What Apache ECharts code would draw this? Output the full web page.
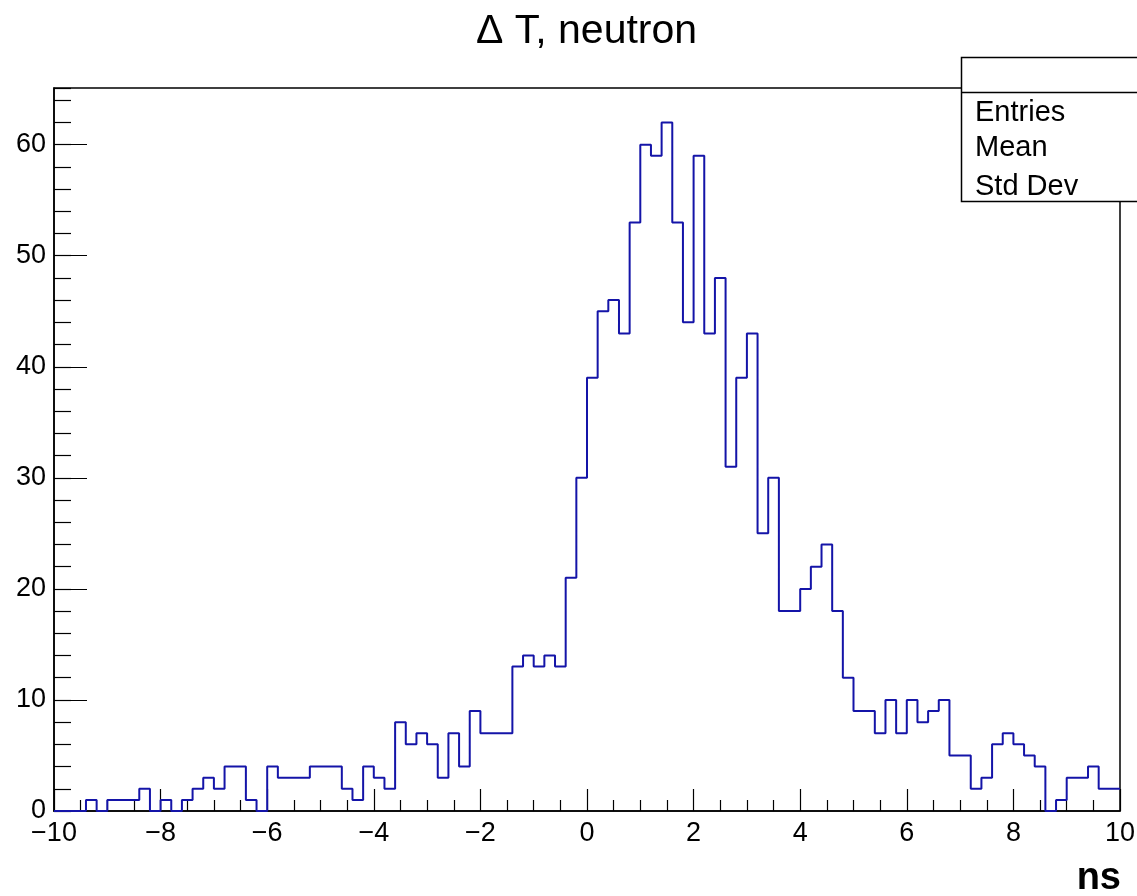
<!DOCTYPE html>
<html>
<head>
<meta charset="utf-8">
<script src="https://cdn.jsdelivr.net/npm/echarts@6/dist/echarts.min.js"></script>
<style>
html, body { margin: 0; padding: 0; background: #fff; }
#chart { width: 1137px; height: 896px; }
</style>
</head>
<body>
<div id="chart"></div>
<script>
// binning: 100 bins of 0.2 ns between -10 and 10
const xMin = -10
const xMax = 10
const binWidth = 0.2

// entries per bin, -10 .. 0 ns
const countsNeg = [
  0, 0, 0, 1, 0, 1, 1, 1, 2, 0,
  1, 0, 1, 2, 3, 2, 4, 4, 1, 0,
  4, 3, 3, 3, 4, 4, 4, 2, 1, 4,
  3, 2, 8, 6, 7, 6, 3, 7, 4, 9,
  7, 7, 7, 13, 14, 13, 14, 13, 21, 30
]
// entries per bin, 0 .. 10 ns
const countsPos = [
  39, 45, 46, 43, 53, 60, 59, 62, 53, 44,
  59, 43, 48, 31, 39, 43, 25, 30, 18, 18,
  20, 22, 24, 18, 12, 9, 9, 7, 10, 7,
  10, 8, 9, 10, 5, 5, 2, 3, 6, 7,
  6, 5, 4, 0, 1, 3, 3, 4, 2, 2
]

const titleText = "\u0394 T, neutron"
const xTitle = "ns"
const statsLabels = ["Entries", "Mean", "Std Dev"]

const counts = countsNeg.concat(countsPos)
const yMax = Math.max(...counts) * 1.05

// step line through the left edge of every bin, closed at xMax
const histData = counts.map((c, i) => [+(xMin + i * binWidth).toFixed(2), c])
histData.push([xMax, counts[counts.length - 1]])

const font = "'Liberation Sans', Arial, Helvetica, sans-serif"
const minus = v => (v < 0 ? "\u2212" + -v : "" + v)

const chart = echarts.init(document.getElementById("chart"))
chart.setOption({
  backgroundColor: "#ffffff",
  animation: false,
  title: {
    text: titleText,
    left: 471,
    top: 6,
    textStyle: { fontFamily: font, fontSize: 41, fontWeight: "normal", color: "#000" }
  },
  grid: {
    left: 54,
    right: 17,
    top: 88,
    bottom: 85,
    containLabel: false,
    outerBoundsMode: "none",
    show: true,
    borderColor: "#000",
    borderWidth: 1.5,
    backgroundColor: "transparent"
  },
  xAxis: {
    type: "value",
    min: xMin,
    max: xMax,
    interval: 2,
    axisLine: { show: true, onZero: false, lineStyle: { color: "#000", width: 1.5 } },
    axisTick: { show: true, inside: true, length: 22, lineStyle: { color: "#000", width: 1.2 } },
    minorTick: { show: true, splitNumber: 4, length: 11, lineStyle: { color: "#000", width: 1.2 } },
    splitLine: { show: false },
    minorSplitLine: { show: false },
    axisLabel: {
      fontFamily: font,
      fontSize: 27,
      color: "#000",
      margin: 9,
      showMinLabel: true,
      showMaxLabel: true,
      formatter: minus
    }
  },
  yAxis: [
    {
      // minor ticks every 2 entries
      type: "value",
      min: 0,
      max: yMax,
      interval: 2,
      position: "left",
      axisLine: { show: true, onZero: false, lineStyle: { color: "#000", width: 1.5 } },
      axisTick: { show: true, inside: true, length: 17, lineStyle: { color: "#000", width: 1.2 } },
      axisLabel: { show: false },
      splitLine: { show: false }
    },
    {
      // major ticks and labels every 10 entries
      type: "value",
      min: 0,
      max: yMax,
      interval: 10,
      position: "left",
      offset: 0,
      axisLine: { show: false, onZero: false },
      axisTick: { show: true, inside: true, length: 33, lineStyle: { color: "#000", width: 1.2 } },
      splitLine: { show: false },
      axisLabel: {
        fontFamily: font,
        fontSize: 27,
        color: "#000",
        margin: 8,
        showMaxLabel: false,
        formatter: v => (v % 10 === 0 ? v : "")
      }
    }
  ],
  series: [
    {
      type: "line",
      step: "end",
      yAxisIndex: 0,
      data: histData,
      symbol: "none",
      silent: true,
      lineStyle: { color: "#1414a8", width: 2 },
      z: 3
    }
  ],
  graphic: [
    {
      type: "text",
      right: 16,
      top: 860,
      z: 100,
      style: { text: xTitle, font: "bold 38px " + font, fill: "#000" }
    },
    {
      type: "group",
      z: 100,
      children: [
        {
          type: "rect",
          shape: { x: 961.5, y: 57.5, width: 190, height: 144 },
          style: { fill: "#fff", stroke: "#000", lineWidth: 1.5 }
        },
        {
          type: "line",
          shape: { x1: 961.5, y1: 92.5, x2: 1140, y2: 92.5 },
          style: { stroke: "#000", lineWidth: 1.5 }
        },
        ...statsLabels.map((t, i) => ({
          type: "text",
          x: 975,
          y: [113, 148, 187][i],
          style: {
            text: t,
            font: "29px " + font,
            fill: "#000",
            textAlign: "left",
            textVerticalAlign: "middle"
          }
        }))
      ]
    }
  ]
})
</script>
</body>
</html>
